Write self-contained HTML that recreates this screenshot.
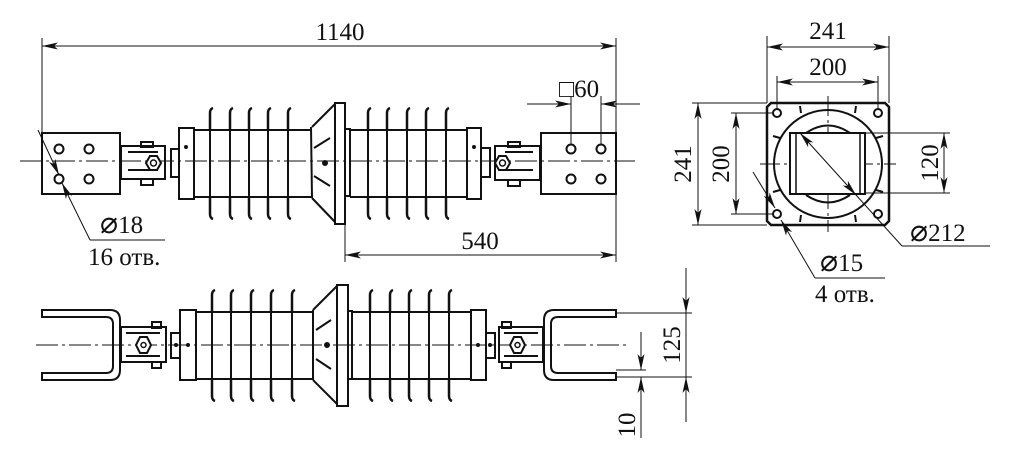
<!DOCTYPE html>
<html><head><meta charset="utf-8"><style>
html,body{margin:0;padding:0;background:#fff;width:1018px;height:456px;overflow:hidden}
svg{display:block}
text{font-family:"Liberation Serif",serif;font-size:25px;fill:#111}
.d{font-family:"DejaVu Sans",sans-serif;font-size:30px;font-weight:200}
</style></head><body>
<svg width="1018" height="456" viewBox="0 0 1018 456" xmlns="http://www.w3.org/2000/svg">
<defs>
<marker id="a" markerWidth="16" markerHeight="8" refX="16" refY="4" orient="auto-start-reverse" markerUnits="userSpaceOnUse"><path d="M0,0.5 L16,4 L0,7.5 L4,4 Z" fill="#111"/></marker>
<g id="ft"><path d="M0,0 L0,-17 Q0,-21 3,-22" fill="none" stroke="#111" stroke-width="2.5"/></g>
<g id="fb"><path d="M0,0 L0,17 Q0,21 3,22" fill="none" stroke="#111" stroke-width="2.5"/></g>
</defs>
<g fill="none" stroke="#111" stroke-linecap="butt">
<!-- ===== TOP VIEW ===== -->
<line x1="20" y1="161" x2="635" y2="161" stroke-width="1" stroke-dasharray="22,4,3,4"/>
<rect x="42" y="133" width="78" height="61" stroke-width="2"/>
<circle cx="59" cy="149" r="4.5" stroke-width="2"/><circle cx="89" cy="149" r="4.5" stroke-width="2"/>
<circle cx="59" cy="179" r="4.5" stroke-width="2"/><circle cx="89" cy="179" r="4.5" stroke-width="2"/>
<rect x="121" y="146" width="44" height="33" stroke-width="2"/>
<line x1="128" y1="152" x2="158" y2="152" stroke-width="2"/><line x1="128" y1="170" x2="158" y2="170" stroke-width="2"/>
<rect x="141" y="142" width="12" height="5" stroke-width="2"/><rect x="141" y="179" width="12" height="6" stroke-width="2"/>
<path d="M150,156 L157,156 L161,163 L157,170 L150,170 L146,163 Z" stroke-width="2" fill="#fff"/><circle cx="153.5" cy="163" r="3" stroke-width="1.5"/>
<rect x="171" y="149" width="8" height="28" stroke-width="2"/>
<rect x="179" y="128" width="15" height="71" stroke-width="2"/><circle cx="186" cy="147" r="1.5" fill="#111"/>
<line x1="194" y1="130" x2="311" y2="130" stroke-width="2"/><line x1="194" y1="197" x2="311" y2="197" stroke-width="2"/>
<use href="#ft" x="210" y="130"/><use href="#ft" x="230" y="130"/><use href="#ft" x="249" y="130"/><use href="#ft" x="268" y="130"/><use href="#ft" x="288" y="130"/>
<use href="#fb" x="210" y="197"/><use href="#fb" x="230" y="197"/><use href="#fb" x="249" y="197"/><use href="#fb" x="268" y="197"/><use href="#fb" x="288" y="197"/>
<g stroke-width="2"><line x1="210" y1="130" x2="210" y2="197"/><line x1="230" y1="130" x2="230" y2="197"/><line x1="249" y1="130" x2="249" y2="197"/><line x1="268" y1="130" x2="268" y2="197"/><line x1="288" y1="130" x2="288" y2="197"/></g>
<path d="M311,127 L312,198" stroke-width="2"/>
<path d="M312,127 L335,104 M312,198 L335,222" stroke-width="2"/>
<path d="M314,148 L330,138 M314,176 L330,186" stroke-width="2"/>
<circle cx="325" cy="163" r="3" fill="#111" stroke="none"/>
<rect x="335" y="103" width="10" height="121" stroke-width="2"/>
<rect x="345" y="129" width="5" height="67" stroke-width="2"/>
<line x1="350" y1="130" x2="467" y2="130" stroke-width="2"/><line x1="350" y1="197" x2="467" y2="197" stroke-width="2"/>
<use href="#ft" x="368" y="130"/><use href="#ft" x="387" y="130"/><use href="#ft" x="407" y="130"/><use href="#ft" x="426" y="130"/><use href="#ft" x="446" y="130"/>
<use href="#fb" x="368" y="197"/><use href="#fb" x="387" y="197"/><use href="#fb" x="407" y="197"/><use href="#fb" x="426" y="197"/><use href="#fb" x="446" y="197"/>
<g stroke-width="2"><line x1="368" y1="130" x2="368" y2="197"/><line x1="387" y1="130" x2="387" y2="197"/><line x1="407" y1="130" x2="407" y2="197"/><line x1="426" y1="130" x2="426" y2="197"/><line x1="446" y1="130" x2="446" y2="197"/></g>
<rect x="467" y="128" width="14" height="71" stroke-width="2"/><circle cx="474" cy="147" r="1.5" fill="#111"/>
<rect x="481" y="148" width="9" height="29" stroke-width="2"/>
<rect x="495" y="146" width="45" height="34" stroke-width="2"/>
<line x1="505" y1="152" x2="533" y2="152" stroke-width="2"/><line x1="505" y1="170" x2="533" y2="170" stroke-width="2"/>
<rect x="508" y="142" width="12" height="5" stroke-width="2"/><rect x="508" y="180" width="12" height="6" stroke-width="2"/>
<path d="M499,156 L506,156 L510,163 L506,170 L499,170 L495,163 Z" stroke-width="2" fill="#fff"/><circle cx="502.5" cy="163" r="3" stroke-width="1.5"/>
<rect x="541" y="133" width="75" height="61" stroke-width="2"/>
<circle cx="571" cy="149" r="4.5" stroke-width="2"/><circle cx="601" cy="149" r="4.5" stroke-width="2"/>
<circle cx="571" cy="179" r="4.5" stroke-width="2"/><circle cx="601" cy="179" r="4.5" stroke-width="2"/>
<g stroke-width="1">
<line x1="42" y1="38" x2="42" y2="133"/><line x1="616" y1="38" x2="616" y2="133"/>
<line x1="42" y1="46" x2="616" y2="46" marker-start="url(#a)" marker-end="url(#a)"/>
<line x1="571" y1="96" x2="571" y2="145"/><line x1="601" y1="96" x2="601" y2="145"/>
<line x1="527" y1="104" x2="571" y2="104" marker-end="url(#a)"/><line x1="640" y1="104" x2="601" y2="104" marker-end="url(#a)"/>
<line x1="345" y1="224" x2="345" y2="262"/><line x1="616" y1="194" x2="616" y2="262"/>
<line x1="345" y1="255" x2="616" y2="255" marker-start="url(#a)" marker-end="url(#a)"/>
<line x1="38" y1="130" x2="59" y2="175" marker-end="url(#a)"/>
<line x1="90" y1="240" x2="62" y2="183" marker-end="url(#a)"/>
<line x1="90" y1="240" x2="165" y2="240"/>
</g>
<!-- ===== SQUARE VIEW ===== -->
<path d="M771,103 L885,103 L889,107 L889,221 L885,225 L771,225 L767,221 L767,107 Z" stroke-width="2.5"/>
<g stroke-width="1" stroke-dasharray="20,4,3,4"><line x1="828" y1="96" x2="828" y2="232"/><line x1="760" y1="164" x2="896" y2="164"/></g>
<circle cx="777" cy="113" r="4" stroke-width="2"/><circle cx="878" cy="113" r="4" stroke-width="2"/>
<circle cx="777" cy="214" r="4" stroke-width="2"/><circle cx="878" cy="214" r="4" stroke-width="2"/>
<circle cx="828" cy="164" r="54" stroke-width="2"/>
<path d="M806,133 Q828,118 850,133 M806,195 Q828,210 850,195" stroke-width="2"/>
<rect x="790" y="133" width="75" height="61" stroke-width="2" fill="#fff"/>
<line x1="796" y1="133" x2="796" y2="194" stroke-width="1.5"/><line x1="860" y1="133" x2="860" y2="194" stroke-width="1.5"/>
<g stroke-width="2">
<path d="M800,106 l1,7 M856,106 l-1,7 M773,136 l7,2 M883,136 l-7,2 M773,192 l7,-2 M883,192 l-7,-2 M800,222 l1,-7 M856,222 l-1,-7"/>
</g>
<g stroke-width="1">
<line x1="767" y1="36" x2="767" y2="103"/><line x1="889" y1="36" x2="889" y2="103"/>
<line x1="767" y1="47" x2="889" y2="47" marker-start="url(#a)" marker-end="url(#a)"/>
<line x1="777" y1="76" x2="777" y2="109"/><line x1="878" y1="76" x2="878" y2="109"/>
<line x1="777" y1="82" x2="878" y2="82" marker-start="url(#a)" marker-end="url(#a)"/>
<line x1="692" y1="103" x2="767" y2="103"/><line x1="692" y1="225" x2="767" y2="225"/>
<line x1="698" y1="103" x2="698" y2="225" marker-start="url(#a)" marker-end="url(#a)"/>
<line x1="731" y1="113" x2="773" y2="113"/><line x1="731" y1="214" x2="773" y2="214"/>
<line x1="736" y1="113" x2="736" y2="214" marker-start="url(#a)" marker-end="url(#a)"/>
<line x1="865" y1="133" x2="950" y2="133"/><line x1="865" y1="193" x2="950" y2="193"/>
<line x1="944" y1="133" x2="944" y2="193" marker-start="url(#a)" marker-end="url(#a)"/>
<line x1="800" y1="133" x2="856" y2="195" marker-start="url(#a)" marker-end="url(#a)"/>
<line x1="856" y1="195" x2="902" y2="246"/><line x1="902" y1="246" x2="990" y2="246"/>
<line x1="753" y1="172" x2="775" y2="208" marker-end="url(#a)"/>
<line x1="815" y1="278" x2="781" y2="220" marker-end="url(#a)"/>
<line x1="815" y1="278" x2="885" y2="278"/>
</g>
<!-- ===== BOTTOM VIEW ===== -->
<line x1="36" y1="345" x2="630" y2="345" stroke-width="1" stroke-dasharray="22,4,3,4"/>
<path d="M42,310 L110,310 Q120,310 120,320 L120,370 Q120,380 110,380 L42,380 L42,373 L106,373 Q113,373 113,366 L113,324 Q113,317 106,317 L42,317 Z" stroke-width="2"/>
<rect x="121" y="327" width="45" height="35" stroke-width="2"/>
<line x1="126" y1="333" x2="160" y2="333" stroke-width="2"/><line x1="126" y1="356" x2="160" y2="356" stroke-width="2"/>
<rect x="152" y="322" width="9" height="6" stroke-width="2"/><rect x="152" y="362" width="9" height="6" stroke-width="2"/>
<path d="M140,337 L147,337 L151,345 L147,353 L140,353 L136,345 Z" stroke-width="2" fill="#fff"/><circle cx="143.5" cy="345" r="2.5" stroke-width="1.5"/>
<rect x="171" y="333" width="9" height="25" stroke-width="2"/>
<rect x="180" y="310" width="16" height="70" stroke-width="2"/>
<circle cx="176" cy="345" r="1.5" fill="#111"/><circle cx="188" cy="345" r="1.5" fill="#111"/>
<line x1="196" y1="312" x2="313" y2="312" stroke-width="2"/><line x1="196" y1="379" x2="313" y2="379" stroke-width="2"/>
<use href="#ft" x="212" y="312"/><use href="#ft" x="231" y="312"/><use href="#ft" x="251" y="312"/><use href="#ft" x="271" y="312"/><use href="#ft" x="292" y="312"/>
<use href="#fb" x="212" y="379"/><use href="#fb" x="231" y="379"/><use href="#fb" x="251" y="379"/><use href="#fb" x="271" y="379"/><use href="#fb" x="292" y="379"/>
<g stroke-width="2"><line x1="212" y1="312" x2="212" y2="379"/><line x1="231" y1="312" x2="231" y2="379"/><line x1="251" y1="312" x2="251" y2="379"/><line x1="271" y1="312" x2="271" y2="379"/><line x1="292" y1="312" x2="292" y2="379"/></g>
<path d="M313,310 L313,380 M313,310 L337,286 M313,380 L337,404" stroke-width="2"/>
<path d="M316,330 L331,320 M316,359 L331,369" stroke-width="2"/>
<circle cx="327" cy="345" r="3" fill="#111" stroke="none"/>
<rect x="337" y="285" width="11" height="121" stroke-width="2"/>
<rect x="348" y="311" width="4" height="68" stroke-width="2"/>
<line x1="352" y1="312" x2="471" y2="312" stroke-width="2"/><line x1="352" y1="379" x2="471" y2="379" stroke-width="2"/>
<use href="#ft" x="370" y="312"/><use href="#ft" x="390" y="312"/><use href="#ft" x="409" y="312"/><use href="#ft" x="429" y="312"/><use href="#ft" x="449" y="312"/>
<use href="#fb" x="370" y="379"/><use href="#fb" x="390" y="379"/><use href="#fb" x="409" y="379"/><use href="#fb" x="429" y="379"/><use href="#fb" x="449" y="379"/>
<g stroke-width="2"><line x1="370" y1="312" x2="370" y2="379"/><line x1="390" y1="312" x2="390" y2="379"/><line x1="409" y1="312" x2="409" y2="379"/><line x1="429" y1="312" x2="429" y2="379"/><line x1="449" y1="312" x2="449" y2="379"/></g>
<rect x="471" y="310" width="15" height="70" stroke-width="2"/>
<rect x="486" y="333" width="9" height="25" stroke-width="2"/>
<circle cx="478" cy="345" r="1.5" fill="#111"/><circle cx="490" cy="345" r="1.5" fill="#111"/>
<rect x="499" y="327" width="44" height="35" stroke-width="2"/>
<line x1="504" y1="333" x2="538" y2="333" stroke-width="2"/><line x1="504" y1="356" x2="538" y2="356" stroke-width="2"/>
<rect x="502" y="322" width="9" height="6" stroke-width="2"/><rect x="502" y="362" width="9" height="6" stroke-width="2"/>
<path d="M514,337 L521,337 L525,345 L521,353 L514,353 L510,345 Z" stroke-width="2" fill="#fff"/><circle cx="517.5" cy="345" r="2.5" stroke-width="1.5"/>
<path d="M616,310 L554,310 Q544,310 544,320 L544,370 Q544,380 554,380 L616,380 L616,373 L558,373 Q551,373 551,366 L551,324 Q551,317 558,317 L616,317 Z" stroke-width="2"/>
<g stroke-width="1">
<line x1="616" y1="313" x2="692" y2="313"/><line x1="616" y1="377" x2="692" y2="377"/>
<line x1="616" y1="370" x2="646" y2="370"/>
<line x1="686" y1="268" x2="686" y2="313" marker-end="url(#a)"/>
<line x1="686" y1="313" x2="686" y2="377"/>
<line x1="686" y1="422" x2="686" y2="377" marker-end="url(#a)"/>
<line x1="641" y1="332" x2="641" y2="370" marker-end="url(#a)"/>
<line x1="641" y1="438" x2="641" y2="377" marker-end="url(#a)"/>
</g>
</g>
<text x="340" y="40" text-anchor="middle">1140</text>
<text x="559" y="97" font-size="24">□60</text>
<text x="480" y="249" text-anchor="middle">540</text>
<text x="100" y="233"><tspan class="d">⌀</tspan>18</text>
<text x="88" y="265">16 отв.</text>
<text x="828" y="39" text-anchor="middle">241</text>
<text x="828" y="75" text-anchor="middle">200</text>
<text transform="translate(691,164) rotate(-90)" text-anchor="middle">241</text>
<text transform="translate(729,164) rotate(-90)" text-anchor="middle">200</text>
<text transform="translate(938,163) rotate(-90)" text-anchor="middle">120</text>
<text x="910" y="241"><tspan class="d">⌀</tspan>212</text>
<text x="820" y="271"><tspan class="d">⌀</tspan>15</text>
<text x="815" y="302">4 отв.</text>
<text transform="translate(680,345) rotate(-90)" text-anchor="middle">125</text>
<text transform="translate(635,425) rotate(-90)" text-anchor="middle">10</text>
</svg>
</body></html>
